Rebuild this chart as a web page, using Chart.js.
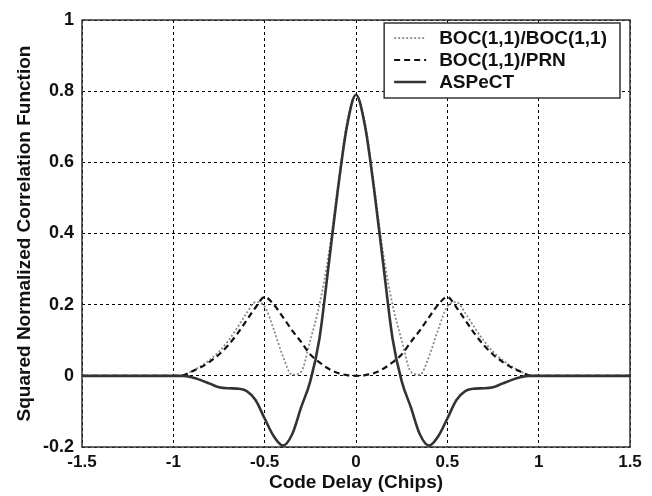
<!DOCTYPE html>
<html>
<head>
<meta charset="utf-8">
<script src="https://cdn.jsdelivr.net/npm/chart.js@4.4.1/dist/chart.umd.min.js"></script>
<style>
  html, body { margin: 0; padding: 0; background: #fff; }
  #wrap { width: 652px; height: 496px; }
</style>
</head>
<body>
<div id="wrap"><canvas id="corrChart" width="652" height="496"></canvas></div>
<script>
// code delay in chips
const delays = [-1.5, -1.0, -0.95, -0.9, -0.85, -0.8, -0.75, -0.7, -0.65, -0.6, -0.55, -0.5,
  -0.45, -0.4, -0.35, -0.3, -0.25, -0.2, -0.15, -0.1, -0.05, 0,
  0.05, 0.1, 0.15, 0.2, 0.25, 0.3, 0.35, 0.4, 0.45, 0.5,
  0.55, 0.6, 0.65, 0.7, 0.75, 0.8, 0.85, 0.9, 0.95, 1.0, 1.5];

const bocBoc = [0, 0, 0.001, 0.013, 0.027, 0.045, 0.068, 0.098, 0.135, 0.175, 0.207, 0.195,
  0.13, 0.055, 0.003, 0.012, 0.10, 0.20, 0.34, 0.53, 0.71, 0.79,
  0.71, 0.53, 0.34, 0.20, 0.10, 0.012, 0.003, 0.055, 0.13, 0.195,
  0.207, 0.175, 0.135, 0.098, 0.068, 0.045, 0.027, 0.013, 0.001, 0, 0];

const bocPrn = [0, 0, 0.001, 0.012, 0.024, 0.040, 0.060, 0.086, 0.118, 0.155, 0.192, 0.222,
  0.200, 0.165, 0.128, 0.095, 0.060, 0.038, 0.020, 0.008, 0.002, 0,
  0.002, 0.008, 0.020, 0.038, 0.060, 0.095, 0.128, 0.165, 0.200, 0.222,
  0.192, 0.155, 0.118, 0.086, 0.060, 0.040, 0.024, 0.012, 0.001, 0, 0];

const aspect = [0, 0, 0, -0.004, -0.012, -0.022, -0.032, -0.035, -0.036, -0.042, -0.068, -0.12,
  -0.17, -0.196, -0.165, -0.088, -0.015, 0.105, 0.31, 0.52, 0.70, 0.79,
  0.70, 0.52, 0.31, 0.105, -0.015, -0.088, -0.165, -0.196, -0.17, -0.12,
  -0.068, -0.042, -0.036, -0.035, -0.032, -0.022, -0.012, -0.004, 0, 0, 0];

const seriesLabels = ['BOC(1,1)/BOC(1,1)', 'BOC(1,1)/PRN', 'ASPeCT'];
const xTicks = [-1.5, -1, -0.5, 0, 0.5, 1, 1.5];
const yTicks = [-0.2, 0, 0.2, 0.4, 0.6, 0.8, 1];

const FONT = "'Liberation Sans', Arial, sans-serif";

const toPoints = ys => delays.map((d, i) => ({ x: d, y: ys[i] }));

// box round the plot, like matlab axes
const frameBox = {
  id: 'frameBox',
  afterDatasetsDraw(chart) {
    const { ctx, chartArea: a } = chart;
    ctx.save();
    ctx.strokeStyle = '#333';
    ctx.lineWidth = 1.5;
    ctx.strokeRect(a.left, a.top, a.right - a.left, a.bottom - a.top);

    // legend in the top right corner
    ctx.font = 'bold 19px ' + FONT;
    const textW = Math.max(...seriesLabels.map(t => ctx.measureText(t).width));
    const bw = textW + 68, bh = 75;
    const bx = a.right - 10 - bw, by = a.top + 3;
    ctx.fillStyle = '#fff';
    ctx.fillRect(bx, by, bw, bh);
    ctx.lineWidth = 1.5;
    ctx.strokeStyle = '#333';
    ctx.strokeRect(bx, by, bw, bh);
    chart.data.datasets.forEach((ds, i) => {
      const cy = by + 15 + i * 22;
      ctx.beginPath();
      ctx.strokeStyle = ds.borderColor;
      ctx.lineWidth = ds.borderWidth;
      ctx.setLineDash(ds.borderDash || []);
      ctx.moveTo(bx + 10, cy);
      ctx.lineTo(bx + 42, cy);
      ctx.stroke();
      ctx.setLineDash([]);
      ctx.fillStyle = '#111';
      ctx.textBaseline = 'middle';
      ctx.fillText(ds.label, bx + 55, cy + 1);
    });
    ctx.restore();
  }
};

const ctx = document.getElementById('corrChart').getContext('2d');
new Chart(ctx, {
  type: 'line',
  data: {
    datasets: [
      {
        label: seriesLabels[0],
        data: toPoints(bocBoc),
        borderColor: '#8a8a8a',
        borderWidth: 1.8,
        borderDash: [2, 2],
        order: 2
      },
      {
        label: seriesLabels[1],
        data: toPoints(bocPrn),
        borderColor: '#111',
        borderWidth: 2.2,
        borderDash: [6, 4],
        order: 1
      },
      {
        label: seriesLabels[2],
        data: toPoints(aspect),
        borderColor: '#333',
        borderWidth: 2.6,
        order: 0
      }
    ]
  },
  options: {
    responsive: false,
    animation: false,
    layout: { padding: { top: 20, right: 22, left: 0, bottom: 0 } },
    elements: {
      point: { radius: 0 },
      line: { cubicInterpolationMode: 'monotone', fill: false }
    },
    plugins: {
      legend: { display: false },
      tooltip: { enabled: false }
    },
    scales: {
      x: {
        type: 'linear',
        min: -1.5,
        max: 1.5,
        afterBuildTicks: s => { s.ticks = xTicks.map(v => ({ value: v })); },
        afterFit: s => { s.height = 49; },
        grid: { color: '#000', lineWidth: 1, drawTicks: false },
        border: { display: false, dash: [3, 3] },
        ticks: {
          color: '#111',
          padding: 5,
          maxRotation: 0,
          font: { family: FONT, size: 17, weight: 'bold' },
          callback: v => String(v)
        },
        title: {
          display: true,
          text: 'Code Delay (Chips)',
          color: '#111',
          padding: { top: 0, bottom: 2 },
          font: { family: FONT, size: 19, weight: 'bold' }
        }
      },
      y: {
        min: -0.2,
        max: 1,
        afterBuildTicks: s => { s.ticks = yTicks.map(v => ({ value: v })); },
        afterFit: s => { s.width = 82; },
        grid: { color: '#000', lineWidth: 1, drawTicks: false },
        border: { display: false, dash: [3, 3] },
        ticks: {
          color: '#111',
          padding: 8,
          font: { family: FONT, size: 18, weight: 'bold' },
          callback: v => String(v)
        },
        title: {
          display: true,
          text: 'Squared Normalized Correlation Function',
          color: '#111',
          padding: { top: 13, bottom: 0 },
          font: { family: FONT, size: 19, weight: 'bold' }
        }
      }
    }
  },
  plugins: [frameBox]
});
</script>
</body>
</html>
